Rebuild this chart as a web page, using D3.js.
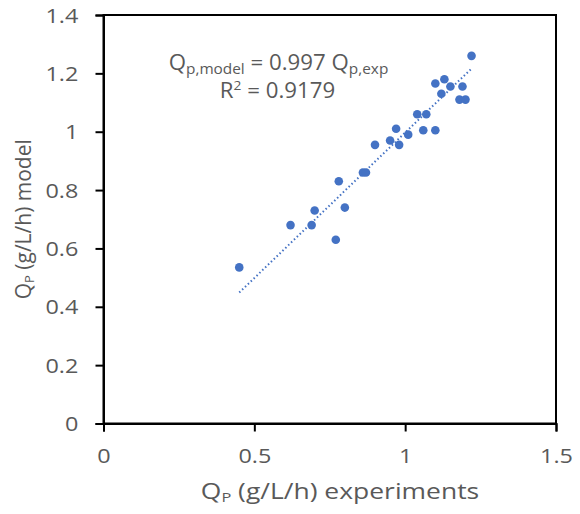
<!DOCTYPE html>
<html><head><meta charset="utf-8">
<script src="https://cdn.jsdelivr.net/npm/d3@7"></script>
<style>body{margin:0;background:#fff}svg{display:block}text{font-family:"Open Sans",sans-serif;fill:#595959}</style>
</head><body><svg id="c" width="580" height="514"></svg>
<script>
const xExp = [0.45,0.62,0.69,0.70,0.77,0.78,0.80,0.86,0.87,0.90,0.95,0.97,0.98,1.01,1.04,1.06,1.07,1.10,1.10,1.12,1.13,1.15,1.18,1.19,1.20,1.22];
const yModel = [0.535,0.68,0.68,0.73,0.63,0.83,0.74,0.86,0.86,0.955,0.97,1.01,0.955,0.99,1.06,1.005,1.06,1.005,1.165,1.13,1.18,1.155,1.11,1.155,1.11,1.26];
const xTicks = [0,0.5,1,1.5];
const yTicks = [0,0.2,0.4,0.6,0.8,1,1.2,1.4];
const slope = 0.997;
const fitRange = [0.45,1.22];

const svg = d3.select("#c");
const x = d3.scaleLinear().domain([0,1.5]).range([103.5,556]);
const y = d3.scaleLinear().domain([0,1.4]).range([423.5,15]);
const SX = 1.2; // horizontal stretch of the reference's lettering

// frame
svg.append("rect").attr("x",x(0)).attr("y",y(1.4)).attr("width",x(1.5)-x(0)).attr("height",y(0)-y(1.4))
  .attr("fill","none").attr("stroke","#000").attr("stroke-width",2);

const xa = svg.append("g").attr("transform",`translate(0,${y(0)})`)
  .call(d3.axisBottom(x).tickValues(xTicks).tickFormat(d3.format("~g")).tickSize(8).tickPadding(18));
const ya = svg.append("g").attr("transform",`translate(${x(0)},0)`)
  .call(d3.axisLeft(y).tickValues(yTicks).tickFormat(d3.format("~g")).tickSize(8).tickPadding(13));
[xa,ya].forEach(a=>{
  a.select(".domain").attr("stroke","#000").attr("stroke-width",2);
  a.selectAll(".tick line").attr("stroke","#000").attr("stroke-width",2);
  a.selectAll(".tick text").style("font-size","19.5px").attr("fill","#595959").attr("transform",`scale(${SX},1)`);
});
ya.selectAll(".tick text").attr("dy","0.36em");

// trendline
svg.append("line").attr("x1",x(fitRange[0])).attr("y1",y(slope*fitRange[0]))
  .attr("x2",x(fitRange[1])).attr("y2",y(slope*fitRange[1]))
  .attr("stroke","#4472C4").attr("stroke-width",2).attr("stroke-dasharray","1.5,2.5");

// points
svg.append("g").selectAll("circle").data(xExp).join("circle")
  .attr("cx",d=>x(d)).attr("cy",(d,i)=>y(yModel[i])).attr("r",4.3).attr("fill","#4472C4");

// annotation
const t1 = svg.append("text").attr("transform","translate(278.5,70) scale(1.06,1)").attr("text-anchor","middle").style("font-size","21px");
t1.append("tspan").text("Q");
t1.append("tspan").attr("dy",4).style("font-size","14.5px").text("p,model");
t1.append("tspan").attr("dy",-4).text(" = 0.997 Q");
t1.append("tspan").attr("dy",4).style("font-size","14.5px").text("p,exp");
const t2 = svg.append("text").attr("transform","translate(277.5,98) scale(1.06,1)").attr("text-anchor","middle").style("font-size","21px");
t2.append("tspan").text("R");
t2.append("tspan").attr("dy",-8).style("font-size","13px").text("2");
t2.append("tspan").attr("dy",8).text(" = 0.9179");

// axis titles
const xt = svg.append("text").attr("transform","translate(340,499) scale(1.26,1)").attr("text-anchor","middle").style("font-size","21px");
xt.append("tspan").text("Q");
xt.append("tspan").attr("dy",3).style("font-size","13px").text("P");
xt.append("tspan").attr("dy",-3).text(" (g/L/h) experiments");
const yt = svg.append("text").attr("transform",`translate(31,${(y(0)+y(1.4))/2}) rotate(-90)`).attr("text-anchor","middle").style("font-size","21px");
yt.append("tspan").text("Q");
yt.append("tspan").attr("dy",3).style("font-size","13px").text("P");
yt.append("tspan").attr("dy",-3).text(" (g/L/h) model");
</script></body></html>
